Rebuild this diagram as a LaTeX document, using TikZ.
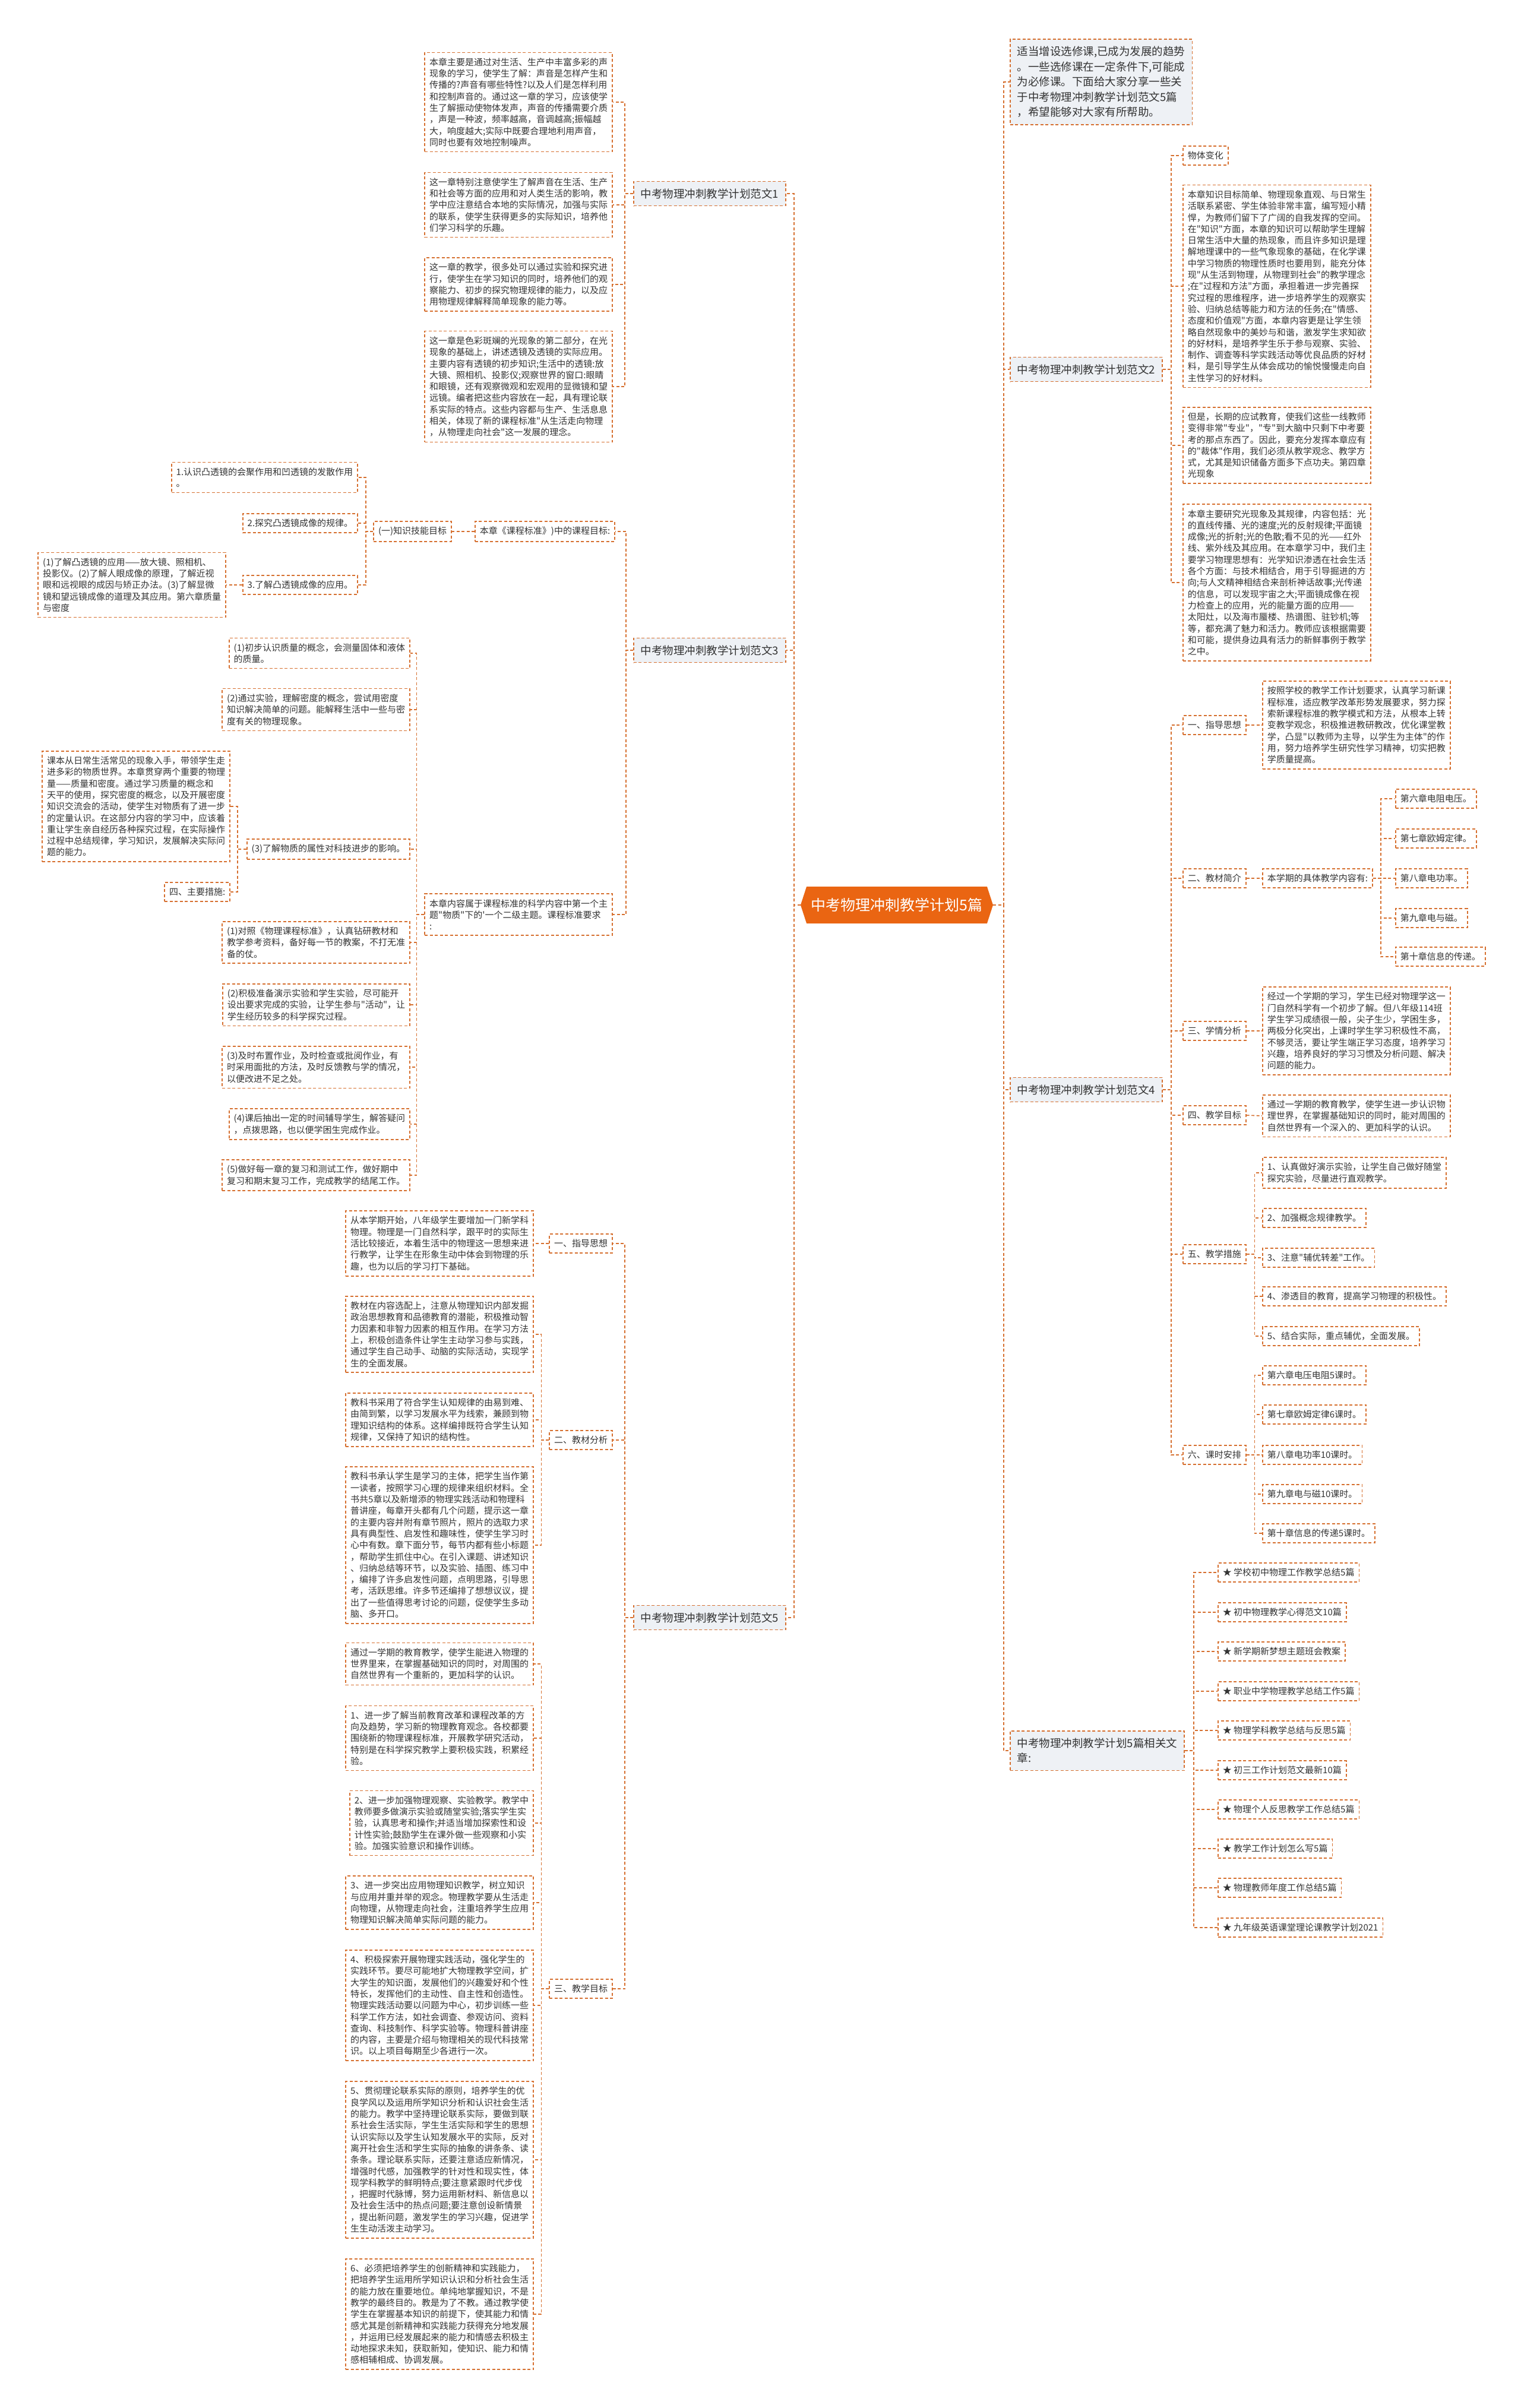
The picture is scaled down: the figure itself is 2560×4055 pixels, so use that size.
\documentclass[tikz,border=0pt]{standalone}
\usepackage{fontspec}
\usepackage{xcolor}
\usepackage{tikz}
\usetikzlibrary{shapes.symbols}
\newfontfamily\cjk{Noto Sans CJK SC}
\definecolor{mapline}{RGB}{214,112,48}
\definecolor{maproot}{RGB}{234,101,18}
\definecolor{topicfill}{RGB}{238,241,245}
\definecolor{maptext}{RGB}{51,51,51}
\tikzset{
  leaf/.style  = {draw=mapline, dash pattern=on 5pt off 3.5pt, line width=1.6pt, fill=white, align=left, inner xsep=8pt, inner ysep=9pt, text=maptext, font=\cjk\fontsize{15}{19.3}\selectfont},
  topic/.style = {leaf, fill=topicfill, inner xsep=12pt, inner ysep=12pt, font=\cjk\fontsize{18.5}{25.5}\selectfont},
  root/.style  = {shape=signal, signal to=west and east, signal pointer angle=144, fill=maproot, text=white, font=\cjk\fontsize{25}{30}\selectfont, minimum height=62pt, minimum width=324pt, inner xsep=4pt},
  link/.style  = {draw=mapline, line width=1.6pt, dash pattern=on 5pt off 3.5pt},
  elbow/.style = {to path={-- ++(#1,0) |- (\tikztotarget)}},
}

\begin{document}
\begin{tikzpicture}[x=1pt,y=-1pt]
  \useasboundingbox[fill=white] (0,0) rectangle (2560,4055);
  \node[root] (c) at (1510,1524) {中考物理冲刺教学计划5篇};

  \node[topic, anchor=east] (l1) at (1324,326) {中考物理冲刺教学计划范文1};
  \node[leaf, anchor=east] (a1) at (1032,172) {本章主要是通过对生活、生产中丰富多彩的声\\现象的学习，使学生了解：声音是怎样产生和\\传播的?声音有哪些特性?以及人们是怎样利用\\和控制声音的。通过这一章的学习，应该使学\\生了解振动使物体发声，声音的传播需要介质\\，声是一种波，频率越高，音调越高;振幅越\\大，响度越大;实际中既要合理地利用声音，\\同时也要有效地控制噪声。};
  \node[leaf, anchor=east] (a2) at (1032,345) {这一章特别注意使学生了解声音在生活、生产\\和社会等方面的应用和对人类生活的影响，教\\学中应注意结合本地的实际情况，加强与实际\\的联系，使学生获得更多的实际知识，培养他\\们学习科学的乐趣。};
  \node[leaf, anchor=east] (a3) at (1032,479) {这一章的教学，很多处可以通过实验和探究进\\行，使学生在学习知识的同时，培养他们的观\\察能力、初步的探究物理规律的能力，以及应\\用物理规律解释简单现象的能力等。};
  \node[leaf, anchor=east] (a4) at (1032,651) {这一章是色彩斑斓的光现象的第二部分，在光\\现象的基础上，讲述透镜及透镜的实际应用。\\主要内容有透镜的初步知识;生活中的透镜:放\\大镜、照相机、投影仪;观察世界的窗口:眼睛\\和眼镜，还有观察微观和宏观用的显微镜和望\\远镜。编者把这些内容放在一起，具有理论联\\系实际的特点。这些内容都与生产、生活息息\\相关，体现了新的课程标准"从生活走向物理\\，从物理走向社会"这一发展的理念。};

  \node[topic, anchor=east] (l3) at (1324,1095) {中考物理冲刺教学计划范文3};
  \node[leaf, anchor=east] (c1) at (1036,895) {本章《课程标准》)中的课程目标:};
  \node[leaf, anchor=east] (k) at (761,895) {(一)知识技能目标};
  \node[leaf, anchor=east] (b1) at (603,804) {1.认识凸透镜的会聚作用和凹透镜的发散作用\\。};
  \node[leaf, anchor=east] (b2) at (603,881) {2.探究凸透镜成像的规律。};
  \node[leaf, anchor=east] (b3) at (603,985) {3.了解凸透镜成像的应用。};
  \node[leaf, anchor=east] (b4) at (381,985) {(1)了解凸透镜的应用——放大镜、照相机、\\投影仪。(2)了解人眼成像的原理，了解近视\\眼和远视眼的成因与矫正办法。(3)了解显微\\镜和望远镜成像的道理及其应用。第六章质量\\与密度};
  \node[leaf, anchor=east] (e) at (1032,1540) {本章内容属于课程标准的科学内容中第一个主\\题"物质"下的'一个二级主题。课程标准要求\\:};
  \node[leaf, anchor=east] (d1) at (691,1100) {(1)初步认识质量的概念，会测量固体和液体\\的质量。};
  \node[leaf, anchor=east] (d2) at (691,1195) {(2)通过实验，理解密度的概念，尝试用密度\\知识解决简单的问题。能解释生活中一些与密\\度有关的物理现象。};
  \node[leaf, anchor=east] (d3) at (691,1430) {(3)了解物质的属性对科技进步的影响。};
  \node[leaf, anchor=east] (d4) at (388,1358) {课本从日常生活常见的现象入手，带领学生走\\进多彩的物质世界。本章贯穿两个重要的物理\\量——质量和密度。通过学习质量的概念和\\天平的使用，探究密度的概念，以及开展密度\\知识交流会的活动，使学生对物质有了进一步\\的定量认识。在这部分内容的学习中，应该着\\重让学生亲自经历各种探究过程，在实际操作\\过程中总结规律，学习知识，发展解决实际问\\题的能力。};
  \node[leaf, anchor=east] (d5) at (388,1502) {四、主要措施:};
  \node[leaf, anchor=east] (m1) at (691,1587) {(1)对照《物理课程标准》，认真钻研教材和\\教学参考资料，备好每一节的教案，不打无准\\备的仗。};
  \node[leaf, anchor=east] (m2) at (691,1692) {(2)积极准备演示实验和学生实验，尽可能开\\设出要求完成的实验，让学生参与"活动"，让\\学生经历较多的科学探究过程。};
  \node[leaf, anchor=east] (m3) at (691,1797) {(3)及时布置作业，及时检查或批阅作业，有\\时采用面批的方法，及时反馈教与学的情况，\\以便改进不足之处。};
  \node[leaf, anchor=east] (m4) at (691,1893) {(4)课后抽出一定的时间辅导学生，解答疑问\\，点拨思路，也以便学困生完成作业。};
  \node[leaf, anchor=east] (m5) at (691,1979) {(5)做好每一章的复习和测试工作，做好期中\\复习和期末复习工作，完成教学的结尾工作。};

  \node[topic, anchor=east] (l5) at (1324,2724) {中考物理冲刺教学计划范文5};
  \node[leaf, anchor=east] (p1) at (1032,2094) {一、指导思想};
  \node[leaf, anchor=east] (f1) at (899,2094) {从本学期开始，八年级学生要增加一门新学科\\物理。物理是一门自然科学，跟平时的实际生\\活比较接近，本着生活中的物理这一思想来进\\行教学，让学生在形象生动中体会到物理的乐\\趣，也为以后的学习打下基础。};
  \node[leaf, anchor=east] (p2) at (1032,2425) {二、教材分析};
  \node[leaf, anchor=east] (g1) at (899,2247) {教材在内容选配上，注意从物理知识内部发掘\\政治思想教育和品德教育的潜能，积极推动智\\力因素和非智力因素的相互作用。在学习方法\\上，积极创造条件让学生主动学习参与实践，\\通过学生自己动手、动脑的实际活动，实现学\\生的全面发展。};
  \node[leaf, anchor=east] (g2) at (899,2391) {教科书采用了符合学生认知规律的由易到难、\\由简到繁，以学习发展水平为线索，兼顾到物\\理知识结构的体系。这样编排既符合学生认知\\规律，又保持了知识的结构性。};
  \node[leaf, anchor=east] (g3) at (899,2602) {教科书承认学生是学习的主体，把学生当作第\\一读者，按照学习心理的规律来组织材料。全\\书共5章以及新增添的物理实践活动和物理科\\普讲座，每章开头都有几个问题，提示这一章\\的主要内容并附有章节照片，照片的选取力求\\具有典型性、启发性和趣味性，使学生学习时\\心中有数。章下面分节，每节内都有些小标题\\，帮助学生抓住中心。在引入课题、讲述知识\\、归纳总结等环节，以及实验、插图、练习中\\，编排了许多启发性问题，点明思路，引导思\\考，活跃思维。许多节还编排了想想议议，提\\出了一些值得思考讨论的问题，促使学生多动\\脑、多开口。};
  \node[leaf, anchor=east] (p3) at (1032,3349) {三、教学目标};
  \node[leaf, anchor=east] (h0) at (899,2802) {通过一学期的教育教学，使学生能进入物理的\\世界里来，在掌握基础知识的同时，对周围的\\自然世界有一个重新的，更加科学的认识。};
  \node[leaf, anchor=east] (h1) at (899,2927) {1、进一步了解当前教育改革和课程改革的方\\向及趋势，学习新的物理教育观念。各校都要\\围绕新的物理课程标准，开展教学研究活动，\\特别是在科学探究教学上要积极实践，积累经\\验。};
  \node[leaf, anchor=east] (h2) at (899,3070) {2、进一步加强物理观察、实验教学。教学中\\教师要多做演示实验或随堂实验;落实学生实\\验，认真思考和操作;并适当增加探索性和设\\计性实验;鼓励学生在课外做一些观察和小实\\验。加强实验意识和操作训练。};
  \node[leaf, anchor=east] (h3) at (899,3204) {3、进一步突出应用物理知识教学，树立知识\\与应用并重并举的观念。物理教学要从生活走\\向物理，从物理走向社会，注重培养学生应用\\物理知识解决简单实际问题的能力。};
  \node[leaf, anchor=east] (h4) at (899,3377) {4、积极探索开展物理实践活动，强化学生的\\实践环节。要尽可能地扩大物理教学空间，扩\\大学生的知识面，发展他们的兴趣爱好和个性\\特长，发挥他们的主动性、自主性和创造性。\\物理实践活动要以问题为中心，初步训练一些\\科学工作方法，如社会调查、参观访问、资料\\查询、科技制作、科学实验等。物理科普讲座\\的内容，主要是介绍与物理相关的现代科技常\\识。以上项目每期至少各进行一次。};
  \node[leaf, anchor=east] (h5) at (899,3637) {5、贯彻理论联系实际的原则，培养学生的优\\良学风以及运用所学知识分析和认识社会生活\\的能力。教学中坚持理论联系实际，要做到联\\系社会生活实际，学生生活实际和学生的思想\\认识实际以及学生认知发展水平的实际，反对\\离开社会生活和学生实际的抽象的讲条条、读\\条条。理论联系实际，还要注意适应新情况，\\增强时代感，加强教学的针对性和现实性，体\\现学科教学的鲜明特点;要注意紧跟时代步伐\\，把握时代脉博，努力运用新材料、新信息以\\及社会生活中的热点问题;要注意创设新情景\\，提出新问题，激发学生的学习兴趣，促进学\\生生动活泼主动学习。};
  \node[leaf, anchor=east] (h6) at (899,3897) {6、必须把培养学生的创新精神和实践能力，\\把培养学生运用所学知识认识和分析社会生活\\的能力放在重要地位。单纯地掌握知识，不是\\教学的最终目的。教是为了不教。通过教学使\\学生在掌握基本知识的前提下，使其能力和情\\感尤其是创新精神和实践能力获得充分地发展\\，并运用已经发展起来的能力和情感去积极主\\动地探求未知，获取新知，使知识、能力和情\\感相辅相成、协调发展。};

  \node[topic, anchor=west] (i) at (1700,138) {适当增设选修课,已成为发展的趋势\\。一些选修课在一定条件下,可能成\\为必修课。下面给大家分享一些关\\于中考物理冲刺教学计划范文5篇\\，希望能够对大家有所帮助。};

  \node[topic, anchor=west] (r) at (1700,622) {中考物理冲刺教学计划范文2};
  \node[leaf, anchor=west] (r1) at (1991,262) {物体变化};
  \node[leaf, anchor=west] (r2) at (1991,482) {本章知识目标简单、物理现象直观、与日常生\\活联系紧密、学生体验非常丰富，编写短小精\\悍，为教师们留下了广阔的自我发挥的空间。\\在"知识"方面，本章的知识可以帮助学生理解\\日常生活中大量的热现象，而且许多知识是理\\解地理课中的一些气象现象的基础，在化学课\\中学习物质的物理性质时也要用到，能充分体\\现"从生活到物理，从物理到社会"的教学理念\\;在"过程和方法"方面，承担着进一步完善探\\究过程的思维程序，进一步培养学生的观察实\\验、归纳总结等能力和方法的任务;在"情感、\\态度和价值观"方面，本章内容更是让学生领\\略自然现象中的美妙与和谐，激发学生求知欲\\的好材料，是培养学生乐于参与观察、实验、\\制作、调查等科学实践活动等优良品质的好材\\料，是引导学生从体会成功的愉悦慢慢走向自\\主性学习的好材料。};
  \node[leaf, anchor=west] (r3) at (1991,750) {但是，长期的应试教育，使我们这些一线教师\\变得非常"专业"，"专"到大脑中只剩下中考要\\考的那点东西了。因此，要充分发挥本章应有\\的"裁体"作用，我们必须从教学观念、教学方\\式，尤其是知识储备方面多下点功夫。第四章\\光现象};
  \node[leaf, anchor=west] (r4) at (1991,981) {本章主要研究光现象及其规律，内容包括：光\\的直线传播、光的速度;光的反射规律;平面镜\\成像;光的折射;光的色散;看不见的光——红外\\线、紫外线及其应用。在本章学习中，我们主\\要学习物理思想有：光学知识渗透在社会生活\\各个方面：与技术相结合，用于引导掘进的方\\向;与人文精神相结合来剖析神话故事;光传递\\的信息，可以发现宇宙之大;平面镜成像在视\\力检查上的应用，光的能量方面的应用——\\太阳灶，以及海市蜃楼、热谱图、驻钞机;等\\等，都充满了魅力和活力。教师应该根据需要\\和可能，提供身边具有活力的新鲜事例于教学\\之中。};

  \node[topic, anchor=west] (s) at (1700,1835) {中考物理冲刺教学计划范文4};
  \node[leaf, anchor=west] (q1) at (1991,1221) {一、指导思想};
  \node[leaf, anchor=west] (s1) at (2125,1221) {按照学校的教学工作计划要求，认真学习新课\\程标准，适应教学改革形势发展要求，努力探\\索新课程标准的教学模式和方法，从根本上转\\变教学观念，积极推进教研教改，优化课堂教\\学，凸显"以教师为主导，以学生为主体"的作\\用，努力培养学生研究性学习精神，切实把教\\学质量提高。};
  \node[leaf, anchor=west] (q2) at (1991,1479) {二、教材简介};
  \node[leaf, anchor=west] (n) at (2125,1479) {本学期的具体教学内容有:};
  \node[leaf, anchor=west] (n1) at (2349,1345) {第六章电阻电压。};
  \node[leaf, anchor=west] (n2) at (2349,1412) {第七章欧姆定律。};
  \node[leaf, anchor=west] (n3) at (2349,1479) {第八章电功率。};
  \node[leaf, anchor=west] (n4) at (2349,1546) {第九章电与磁。};
  \node[leaf, anchor=west] (n5) at (2349,1611) {第十章信息的传递。};
  \node[leaf, anchor=west] (q3) at (1991,1736) {三、学情分析};
  \node[leaf, anchor=west] (s3) at (2125,1736) {经过一个学期的学习，学生已经对物理学这一\\门自然科学有一个初步了解。但八年级114班\\学生学习成绩很一般，尖子生少，学困生多，\\两极分化突出，上课时学生学习积极性不高，\\不够灵活，要让学生端正学习态度，培养学习\\兴趣，培养良好的学习习惯及分析问题、解决\\问题的能力。};
  \node[leaf, anchor=west] (q4) at (1991,1878) {四、教学目标};
  \node[leaf, anchor=west] (s4) at (2125,1879) {通过一学期的教育教学，使学生进一步认识物\\理世界，在掌握基础知识的同时，能对周围的\\自然世界有一个深入的、更加科学的认识。};
  \node[leaf, anchor=west] (q5) at (1991,2112) {五、教学措施};
  \node[leaf, anchor=west] (w1) at (2125,1975) {1、认真做好演示实验，让学生自己做好随堂\\探究实验，尽量进行直观教学。};
  \node[leaf, anchor=west] (w2) at (2125,2051) {2、加强概念规律教学。};
  \node[leaf, anchor=west] (w3) at (2125,2118) {3、注意"辅优转差"工作。};
  \node[leaf, anchor=west] (w4) at (2125,2183) {4、渗透目的教育，提高学习物理的积极性。};
  \node[leaf, anchor=west] (w5) at (2125,2250) {5、结合实际，重点辅优，全面发展。};
  \node[leaf, anchor=west] (q6) at (1991,2450) {六、课时安排};
  \node[leaf, anchor=west] (v1) at (2125,2316) {第六章电压电阻5课时。};
  \node[leaf, anchor=west] (v2) at (2125,2382) {第七章欧姆定律6课时。};
  \node[leaf, anchor=west] (v3) at (2125,2450) {第八章电功率10课时。};
  \node[leaf, anchor=west] (v4) at (2125,2516) {第九章电与磁10课时。};
  \node[leaf, anchor=west] (v5) at (2125,2582) {第十章信息的传递5课时。};

  \node[topic, anchor=west] (t) at (1700,2948) {中考物理冲刺教学计划5篇相关文\\章:};
  \node[leaf, anchor=west] (t1) at (2050,2648) {★ 学校初中物理工作教学总结5篇};
  \node[leaf, anchor=west] (t2) at (2050,2715) {★ 初中物理教学心得范文10篇};
  \node[leaf, anchor=west] (t3) at (2050,2781) {★ 新学期新梦想主题班会教案};
  \node[leaf, anchor=west] (t4) at (2050,2848) {★ 职业中学物理教学总结工作5篇};
  \node[leaf, anchor=west] (t5) at (2050,2914) {★ 物理学科教学总结与反思5篇};
  \node[leaf, anchor=west] (t6) at (2050,2981) {★ 初三工作计划范文最新10篇};
  \node[leaf, anchor=west] (t7) at (2050,3047) {★ 物理个人反思教学工作总结5篇};
  \node[leaf, anchor=west] (t8) at (2050,3113) {★ 教学工作计划怎么写5篇};
  \node[leaf, anchor=west] (t9) at (2050,3179) {★ 物理教师年度工作总结5篇};
  \node[leaf, anchor=west] (t10) at (2050,3246) {★ 九年级英语课堂理论课教学计划2021};

  \draw[link] (c.west) to[elbow=-11] (l1.east); \draw[link] (c.west) to[elbow=-11] (l3.east); \draw[link] (c.west) to[elbow=-11] (l5.east);
  \draw[link] (c.east) to[elbow=18] (i.west); \draw[link] (c.east) to[elbow=18] (r.west); \draw[link] (c.east) to[elbow=18] (s.west); \draw[link] (c.east) to[elbow=18] (t.west);

  \draw[link] (l1.west) to[elbow=-14] (a1.east); \draw[link] (l1.west) to[elbow=-14] (a2.east);
  \draw[link] (l1.west) to[elbow=-14] (a3.east); \draw[link] (l1.west) to[elbow=-14] (a4.east);

  \draw[link] (l3.west) to[elbow=-12] (c1.east); \draw[link] (l3.west) to[elbow=-12] (e.east);
  \draw[link] (c1.west) -- (k.east);
  \draw[link] (k.west) to[elbow=-12] (b1.east); \draw[link] (k.west) to[elbow=-12] (b2.east); \draw[link] (k.west) to[elbow=-12] (b3.east);
  \draw[link] (b3.west) -- (b4.east);
  \draw[link] (e.west) to[elbow=-13] (d1.east); \draw[link] (e.west) to[elbow=-13] (d2.east); \draw[link] (e.west) to[elbow=-13] (d3.east);
  \draw[link] (e.west) to[elbow=-13] (m1.east); \draw[link] (e.west) to[elbow=-13] (m2.east); \draw[link] (e.west) to[elbow=-13] (m3.east);
  \draw[link] (e.west) to[elbow=-13] (m4.east); \draw[link] (e.west) to[elbow=-13] (m5.east);
  \draw[link] (d3.west) to[elbow=-15] (d4.east); \draw[link] (d3.west) to[elbow=-15] (d5.east);

  \draw[link] (l5.west) to[elbow=-14] (p1.east); \draw[link] (l5.west) to[elbow=-14] (p2.east); \draw[link] (l5.west) to[elbow=-14] (p3.east);
  \draw[link] (p1.west) -- (f1.east);
  \draw[link] (p2.west) to[elbow=-13] (g1.east); \draw[link] (p2.west) to[elbow=-13] (g2.east); \draw[link] (p2.west) to[elbow=-13] (g3.east);
  \draw[link] (p3.west) to[elbow=-13] (h0.east); \draw[link] (p3.west) to[elbow=-13] (h1.east); \draw[link] (p3.west) to[elbow=-13] (h2.east);
  \draw[link] (p3.west) to[elbow=-13] (h3.east); \draw[link] (p3.west) to[elbow=-13] (h4.east); \draw[link] (p3.west) to[elbow=-13] (h5.east);
  \draw[link] (p3.west) to[elbow=-13] (h6.east);

  \draw[link] (r.east) to[elbow=14] (r1.west); \draw[link] (r.east) to[elbow=14] (r2.west);
  \draw[link] (r.east) to[elbow=14] (r3.west); \draw[link] (r.east) to[elbow=14] (r4.west);

  \draw[link] (s.east) to[elbow=14] (q1.west); \draw[link] (s.east) to[elbow=14] (q2.west); \draw[link] (s.east) to[elbow=14] (q3.west);
  \draw[link] (s.east) to[elbow=14] (q4.west); \draw[link] (s.east) to[elbow=14] (q5.west); \draw[link] (s.east) to[elbow=14] (q6.west);
  \draw[link] (q1.east) -- (s1.west); \draw[link] (q2.east) -- (n.west); \draw[link] (q3.east) -- (s3.west); \draw[link] (q4.east) -- (s4.west);
  \draw[link] (n.east) to[elbow=13] (n1.west); \draw[link] (n.east) to[elbow=13] (n2.west); \draw[link] (n.east) to[elbow=13] (n3.west);
  \draw[link] (n.east) to[elbow=13] (n4.west); \draw[link] (n.east) to[elbow=13] (n5.west);
  \draw[link] (q5.east) to[elbow=14] (w1.west); \draw[link] (q5.east) to[elbow=14] (w2.west); \draw[link] (q5.east) to[elbow=14] (w3.west);
  \draw[link] (q5.east) to[elbow=14] (w4.west); \draw[link] (q5.east) to[elbow=14] (w5.west);
  \draw[link] (q6.east) to[elbow=14] (v1.west); \draw[link] (q6.east) to[elbow=14] (v2.west); \draw[link] (q6.east) to[elbow=14] (v3.west);
  \draw[link] (q6.east) to[elbow=14] (v4.west); \draw[link] (q6.east) to[elbow=14] (v5.west);

  \draw[link] (t.east) to[elbow=15] (t1.west); \draw[link] (t.east) to[elbow=15] (t2.west); \draw[link] (t.east) to[elbow=15] (t3.west);
  \draw[link] (t.east) to[elbow=15] (t4.west); \draw[link] (t.east) to[elbow=15] (t5.west); \draw[link] (t.east) to[elbow=15] (t6.west);
  \draw[link] (t.east) to[elbow=15] (t7.west); \draw[link] (t.east) to[elbow=15] (t8.west); \draw[link] (t.east) to[elbow=15] (t9.west);
  \draw[link] (t.east) to[elbow=15] (t10.west);
\end{tikzpicture}
\end{document}
